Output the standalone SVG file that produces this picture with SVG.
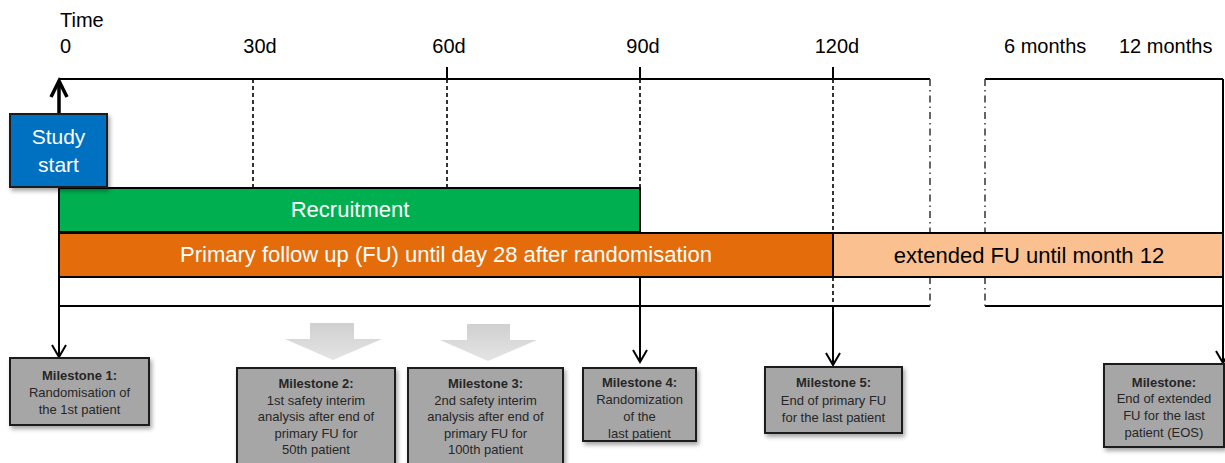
<svg xmlns="http://www.w3.org/2000/svg" width="1225" height="463" viewBox="0 0 1225 463">
<defs>
<style>
text{font-family:"Liberation Sans",Arial,sans-serif;}
.lbl{font-size:20px;fill:#000;}
.bar{font-size:22px;text-anchor:middle;}
.ln{stroke:#000;stroke-width:2;fill:none;}
.dash{stroke:#000;stroke-width:1.6;stroke-dasharray:4 3;fill:none;}
.dd{stroke:#404040;stroke-width:1.6;stroke-dasharray:7 4 1.5 4;fill:none;}
.ms rect{fill:#A6A6A6;stroke:#1a1a1a;stroke-width:2;}
.ms text{font-size:13px;fill:#262626;text-anchor:middle;}
.ms .h{font-weight:bold;}
.blk{fill:url(#gg);}
</style>
<filter id="sh" x="-10%" y="-10%" width="130%" height="140%">
<feDropShadow dx="2" dy="3" stdDeviation="2" flood-color="#000" flood-opacity="0.35"/>
</filter>
<linearGradient id="gg" x1="0" y1="0" x2="0" y2="1">
<stop offset="0" stop-color="#D0D0D0"/>
<stop offset="1" stop-color="#E4E4E4"/>
</linearGradient>
<marker id="ah" markerUnits="userSpaceOnUse" markerWidth="16" markerHeight="16" viewBox="0 0 16 16" refX="14" refY="8" orient="auto">
<path d="M2,1 L14,8 L2,15" fill="none" stroke="#000" stroke-width="2"/>
</marker>
</defs>

<g id="labels">
<text class="lbl" x="60" y="27">Time</text>
<text class="lbl" x="60" y="53">0</text>
<text class="lbl" x="260" y="53" text-anchor="middle">30d</text>
<text class="lbl" x="449" y="53" text-anchor="middle">60d</text>
<text class="lbl" x="643" y="53" text-anchor="middle">90d</text>
<text class="lbl" x="837" y="53" text-anchor="middle">120d</text>
<text class="lbl" x="1004" y="53">6 months</text>
<text class="lbl" x="1119" y="53">12 months</text>
</g>

<g id="timeline-frame">
<path class="ln" d="M59,79 H930 M985,79 H1223 M59,306 H930 M985,306 H1223"/>
<path class="ln" d="M447,67 V79 M640,67 V79 M833,67 V79"/>
<path class="dash" d="M253,79 V187 M447,79 V187 M640,79 V188 M833,79 V233 M833,277 V306"/>
<path class="dd" d="M930,79 V306 M985,79 V306"/>
</g>

<g id="bar-recruitment">
<rect x="59" y="188" width="581" height="44" fill="#00B050" stroke="#000" stroke-width="2"/>
<text class="bar" x="350" y="217" fill="#fff">Recruitment</text>
</g>
<g id="bar-primary-fu">
<rect x="59" y="233" width="774" height="44" fill="#E46C0A" stroke="#000" stroke-width="2"/>
<text class="bar" x="446" y="262" fill="#fff">Primary follow up (FU) until day 28 after randomisation</text>
</g>
<g id="bar-extended-fu">
<rect x="833" y="233" width="390" height="44" fill="#FAC090" stroke="#000" stroke-width="2"/>
<text class="bar" x="1029" y="263" fill="#000">extended FU until month 12</text>
</g>

<g id="connectors">
<path class="ln" d="M59,79 V357" marker-end="url(#ah)"/>
<path class="ln" d="M640,277 V362" marker-end="url(#ah)"/>
<path class="ln" d="M833,306 V365" marker-end="url(#ah)"/>
<path class="ln" d="M1223,79 V363" marker-end="url(#ah)"/>
<path d="M59,114 V82" stroke="#000" stroke-width="3.5" fill="none"/>
<path d="M51,97 L59,81 L67,97" stroke="#000" stroke-width="3.5" fill="none"/>
<polygon class="blk" points="310,323 354,323 354,339 382,339 333,360 285,339 310,339"/>
<polygon class="blk" points="467,324 510,324 510,340 537,340 488,361 440,340 467,340"/>
</g>

<g id="study-start">
<rect x="10" y="114" width="97" height="73" fill="#0070C0" stroke="#1a1a1a" stroke-width="2" filter="url(#sh)"/>
<text x="58.5" y="144" font-size="21" fill="#fff" text-anchor="middle">Study</text>
<text x="58.5" y="172" font-size="21" fill="#fff" text-anchor="middle">start</text>
</g>

<g id="milestone-1" class="ms">
<rect x="10" y="358" width="139" height="67" filter="url(#sh)"/>
<text class="h" x="79.5" y="380">Milestone 1:</text>
<text x="79.5" y="397">Randomisation of</text>
<text x="79.5" y="414">the 1st patient</text>
</g>
<g id="milestone-2" class="ms">
<rect x="237" y="368" width="158" height="100" filter="url(#sh)"/>
<text class="h" x="316" y="388">Milestone 2:</text>
<text x="316" y="405">1st safety interim</text>
<text x="316" y="421">analysis after end of</text>
<text x="316" y="438">primary FU for</text>
<text x="316" y="454">50th patient</text>
</g>
<g id="milestone-3" class="ms">
<rect x="408" y="368" width="155" height="100" filter="url(#sh)"/>
<text class="h" x="485.5" y="388">Milestone 3:</text>
<text x="485.5" y="405">2nd safety interim</text>
<text x="485.5" y="421">analysis after end of</text>
<text x="485.5" y="438">primary FU for</text>
<text x="485.5" y="454">100th patient</text>
</g>
<g id="milestone-4" class="ms">
<rect x="583" y="368" width="113" height="73" filter="url(#sh)"/>
<text class="h" x="639.5" y="387">Milestone 4:</text>
<text x="639.5" y="404">Randomization</text>
<text x="639.5" y="421">of the</text>
<text x="639.5" y="438">last patient</text>
</g>
<g id="milestone-5" class="ms">
<rect x="765" y="367" width="137" height="66" filter="url(#sh)"/>
<text class="h" x="833.5" y="387">Milestone 5:</text>
<text x="833.5" y="405">End of primary FU</text>
<text x="833.5" y="422">for the last patient</text>
</g>
<g id="milestone-6" class="ms">
<rect x="1104" y="364" width="120" height="83" filter="url(#sh)"/>
<text class="h" x="1164" y="387">Milestone:</text>
<text x="1164" y="403">End of extended</text>
<text x="1164" y="420">FU for the last</text>
<text x="1164" y="437">patient (EOS)</text>
</g>
</svg>
